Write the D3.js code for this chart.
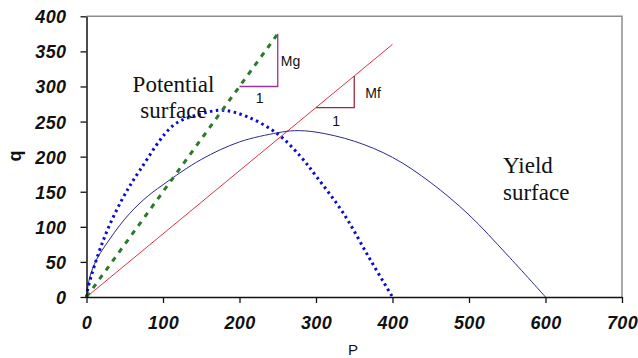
<!DOCTYPE html>
<html>
<head>
<meta charset="utf-8">
<script src="https://cdn.jsdelivr.net/npm/d3@7"></script>
<style>
  html, body { margin: 0; padding: 0; background: #fff; }
  svg { display: block; }
</style>
</head>
<body>
<svg id="chart" width="638" height="358"></svg>
<script>
// ---- data ----
const xTicks = [0, 100, 200, 300, 400, 500, 600, 700];
const yTicks = [0, 50, 100, 150, 200, 250, 300, 350, 400];

const yieldP = [0, 4, 13, 25, 50, 75, 100, 150, 200, 250, 272, 300, 350, 400, 450, 500, 550, 600];
const yieldQ = [0, 27, 53, 74, 111, 139, 160, 196, 221, 234, 237, 235, 222, 199, 163, 117, 60, 0];

const potP = [0, 2.4, 22, 46, 70, 114, 150, 178, 210, 249, 280, 301, 336, 371, 400];
const potQ = [0, 15, 81, 138, 181, 245, 261, 266, 257, 233, 200, 171, 119, 53, 0];

const mgLineP = [0, 250];
const mgLineQ = [0, 375];
const mfLineP = [0, 400];
const mfLineQ = [0, 360];

const mgTriP = [200, 250, 250];
const mgTriQ = [300, 300, 375];
const mfTriP = [300, 350, 350];
const mfTriQ = [270, 270, 315];

// ---- chart ----
const svg = d3.select("#chart");
const x = d3.scaleLinear().domain([0, 700]).range([86.5, 622]);
const y = d3.scaleLinear().domain([0, 400]).range([297, 16.3]);

const zip = (a, b) => a.map((v, i) => [v, b[i]]);
const line = d3.line().x(d => x(d[0])).y(d => y(d[1]));
const smooth = d3.line().x(d => x(d[0])).y(d => y(d[1])).curve(d3.curveCatmullRom.alpha(0.5));

// frame (top & right)
svg.append("path")
  .attr("d", `M${x(0)},${y(400)}H${x(700)}V${y(0)}`)
  .attr("fill", "none").attr("stroke", "#8c8c8c").attr("stroke-width", 1.5);

// red Mf line
svg.append("path").datum(zip(mfLineP, mfLineQ)).attr("d", line)
  .attr("fill", "none").attr("stroke", "#dd3344").attr("stroke-width", 1);

// yield surface
svg.append("path").datum(zip(yieldP, yieldQ)).attr("d", smooth)
  .attr("fill", "none").attr("stroke", "#2a2a8a").attr("stroke-width", 1);

// potential surface
svg.append("path").datum(zip(potP, potQ)).attr("d", smooth)
  .attr("fill", "none").attr("stroke", "#0a0ad0").attr("stroke-width", 3)
  .attr("stroke-dasharray", "2.5,3.5");

// green Mg line
svg.append("path").datum(zip(mgLineP, mgLineQ)).attr("d", line)
  .attr("fill", "none").attr("stroke", "#2b7a2b").attr("stroke-width", 3)
  .attr("stroke-dasharray", "5,6");

// triangles
svg.append("path").datum(zip(mgTriP, mgTriQ)).attr("d", line)
  .attr("fill", "none").attr("stroke", "#993399").attr("stroke-width", 1.3);
svg.append("path").datum(zip(mfTriP, mfTriQ)).attr("d", line)
  .attr("fill", "none").attr("stroke", "#9a2a3a").attr("stroke-width", 1.3);

// axes
const tickFont = "'Liberation Sans', Arial, sans-serif";
const gx = svg.append("g").attr("transform", `translate(0,${y(0)})`)
  .call(d3.axisBottom(x).tickValues(xTicks).tickSize(6).tickSizeOuter(0).tickFormat(d3.format("d")));
gx.selectAll("text").attr("y", 19).attr("dy", "0.71em");
const gy = svg.append("g").attr("transform", `translate(${x(0)},0)`)
  .call(d3.axisLeft(y).tickValues(yTicks).tickSize(6).tickSizeOuter(0).tickFormat(d3.format("d")));
gy.selectAll("text").attr("x", -20).attr("dy", "0.36em");
[gx, gy].forEach(g => {
  g.select(".domain").attr("stroke", "#111").attr("stroke-width", 1.5);
  g.selectAll(".tick line").attr("stroke", "#111").attr("stroke-width", 1.3);
  g.selectAll("text").attr("fill", "#111")
    .style("font-family", tickFont).style("font-size", "18px")
    .style("font-weight", "bold").style("font-style", "italic")
    .style("letter-spacing", "0.4px");
});

// axis titles
svg.append("text").text("P")
  .attr("x", 353).attr("y", 355).attr("text-anchor", "middle")
  .style("font-family", tickFont).style("font-size", "15px").attr("fill", "#111");
svg.append("text").text("q")
  .attr("transform", "translate(21,156) rotate(-90)").attr("text-anchor", "middle")
  .style("font-family", tickFont).style("font-size", "18px").style("font-weight", "bold").attr("fill", "#111");

// annotations
const serif = "'Liberation Serif', 'Times New Roman', serif";
const ann = (t, px, py, anchor, font, size) =>
  svg.append("text").text(t).attr("x", px).attr("y", py).attr("text-anchor", anchor)
    .style("font-family", font).style("font-size", size).attr("fill", "#111");

ann("Potential", 173.5, 92, "middle", serif, "23px");
ann("surface", 173.5, 118, "middle", serif, "23px");
ann("Yield", 503, 173, "start", serif, "23px");
ann("surface", 503, 200, "start", serif, "23px");

ann("Mg", x(250) + 3, 66, "start", tickFont, "14px");
ann("1", (x(200) + x(250)) / 2 + 1, 103, "middle", tickFont, "14px");
ann("Mf", x(350) + 11, 98, "start", tickFont, "14px");
ann("1", (x(300) + x(350)) / 2 + 1, 126, "middle", tickFont, "14px");
</script>
</body>
</html>
